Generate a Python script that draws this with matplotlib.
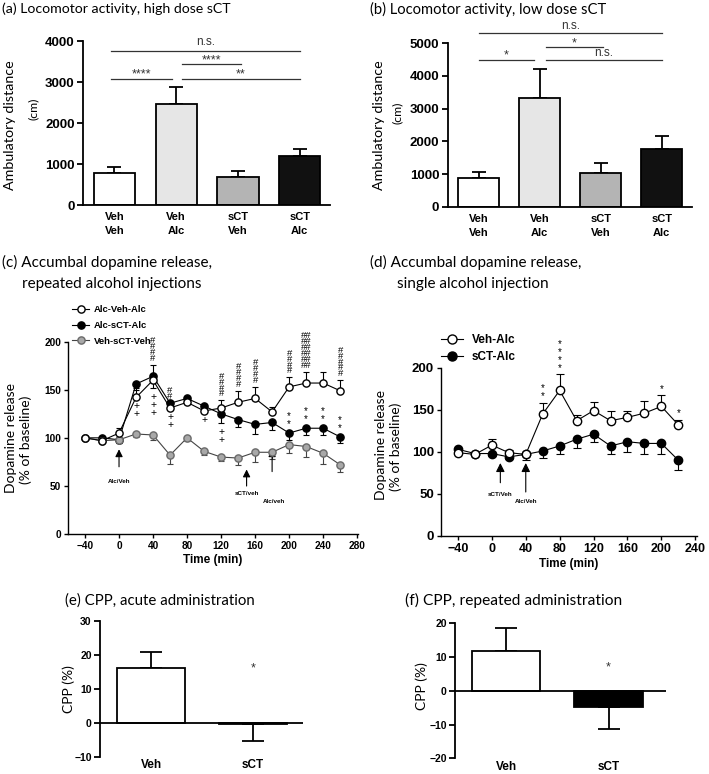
import matplotlib
matplotlib.use('Agg')
import matplotlib.pyplot as plt
from matplotlib.lines import Line2D
import numpy as np

W, H = 709, 774
fig = plt.figure(figsize=(W / 100, H / 100), dpi=100)

TF = 'Lato'               # titles / axis labels (Calibri-like)
KF = 'Liberation Sans'    # ticks (Arial-like)

# ---------------- data ----------------
groups_ab = ['Veh\nVeh', 'Veh\nAlc', 'sCT\nVeh', 'sCT\nAlc']
bar_colors = ['white', '#e6e6e6', '#b4b4b4', '#111111']
high_mean = [770, 2480, 690, 1205]
high_sem = [150, 395, 150, 170]
low_mean = [870, 3320, 1040, 1770]
low_sem = [200, 900, 290, 395]

time_c = [-40, -20, 0, 20, 40, 60, 80, 100, 120, 140, 160, 180, 200, 220, 240, 260]
alc_veh_alc = [100, 97, 105, 142, 160, 131, 137, 128, 131, 137, 141, 127, 153, 157, 157, 149]
alc_veh_alc_sem = [2, 2, 5, 10, 16, 5, 5, 5, 8, 12, 12, 5, 10, 12, 12, 11]
alc_sct_alc = [100, 100, 98, 156, 164, 136, 141, 133, 125, 119, 114, 116, 105, 110, 110, 101]
alc_sct_alc_sem = [2, 2, 3, 6, 12, 5, 6, 5, 10, 8, 10, 8, 7, 7, 7, 6]
veh_sct_veh = [100, 97, 98, 104, 103, 82, 100, 86, 80, 79, 85, 85, 93, 91, 84, 72]
veh_sct_veh_sem = [2, 2, 3, 3, 5, 9, 3, 4, 4, 7, 10, 7, 9, 11, 11, 8]
hash_c = {40: 4, 60: 2, 120: 4, 140: 4, 160: 4, 200: 4, 220: 6, 260: 5}
plus_c = {20: 2, 40: 3, 60: 2, 100: 1, 120: 2}
star_c = [200, 220, 240, 260]

time_d = [-40, -20, 0, 20, 40, 60, 80, 100, 120, 140, 160, 180, 200, 220]
veh_alc = [99, 97, 108, 99, 97, 145, 173, 137, 149, 137, 141, 146, 154, 132]
veh_alc_sem = [2, 2, 7, 3, 3, 13, 19, 7, 10, 12, 7, 15, 13, 6]
sct_alc = [103, 98, 98, 94, 97, 101, 107, 115, 121, 107, 112, 110, 110, 90]
sct_alc_sem = [2, 2, 3, 3, 7, 8, 10, 11, 9, 9, 12, 12, 12, 11]
stars_d = {60: '**', 80: '****', 200: '*', 220: '*'}

cpp_groups = ['Veh', 'sCT']
cpp_acute = [16.0, -0.3]
cpp_acute_sem = [5.0, 5.1]
cpp_repeated = [11.7, -4.8]
cpp_repeated_sem = [7.0, 6.4]


def box(l, t, r, b):
    return [l / W, 1 - b / H, (r - l) / W, (b - t) / H]


def style(ax, lw=1.2, tl=4, fs=8):
    for s in ['top', 'right']:
        ax.spines[s].set_visible(False)
    for s in ['left', 'bottom']:
        ax.spines[s].set_linewidth(lw)
    ax.tick_params(direction='out', width=lw, length=tl, labelsize=fs, pad=2)
    for lab in ax.get_xticklabels() + ax.get_yticklabels():
        lab.set_fontfamily(KF)
        lab.set_fontweight('bold')


def ftext(x, y, s, **kw):
    fig.text(x / W, 1 - y / H, s, **kw)


# ---------------- (a) & (b) ----------------
def bar_panel(rect, means, sems, ymax, step, sig):
    ax = fig.add_axes(rect)
    x = np.arange(len(means))
    ax.bar(x, means, width=0.667, color=bar_colors, edgecolor='black', lw=1.3, zorder=2)
    ax.errorbar(x, means, yerr=[np.zeros(len(means)), sems], fmt='none', ecolor='black',
                elinewidth=1.3, capsize=5, capthick=1.3, zorder=1)
    ax.set_xlim(-0.51, 3.49)
    ax.set_ylim(0, ymax)
    ax.set_yticks(np.arange(0, ymax + 1, step))
    ax.set_xticks(x)
    ax.set_xticklabels(groups_ab, linespacing=1.55)
    style(ax, lw=1.3, tl=4, fs=9.5)
    ax.tick_params(axis='x', length=0, pad=5, labelsize=8)
    for (x0, x1, yl, yt, s, fsz) in sig:
        ax.plot([x0, x1], [yl, yl], color='#333333', lw=0.9, clip_on=False)
        ax.text((x0 + x1) / 2, yt, s, ha='center', va='center', fontsize=fsz,
                family=KF, color='#333333', clip_on=False)
    return ax


bar_panel(box(83, 41.3, 330, 205), high_mean, high_sem, 4000, 1000,
          [(-0.05, 3.0, 3755, 3990, 'n.s.', 8.5),
           (-0.05, 0.93, 3080, 3200, '****', 9),
           (1.1, 2.05, 3446, 3540, '****', 9),
           (1.1, 3.0, 3080, 3200, '**', 9)])
bar_panel(box(447.7, 43.3, 691.7, 206.7), low_mean, low_sem, 5000, 1000,
          [(0.0, 3.0, 5316, 5520, 'n.s.', 8.5),
           (0.0, 0.91, 4490, 4640, '*', 9),
           (1.1, 2.04, 4878, 5000, '*', 9),
           (1.1, 3.0, 4490, 4700, 'n.s.', 8.5)])

ftext(2, 2, '(a) Locomotor activity, high dose sCT', fontsize=10.2, family=TF, va='top')
ftext(370, 2, '(b) Locomotor activity, low dose sCT', fontsize=10.6, family=TF, va='top')
ftext(10, 125, 'Ambulatory distance', fontsize=10.3, family=TF, rotation=90, ha='center', va='center')
ftext(33, 109, '(cm)', fontsize=8.8, family=TF, rotation=90, ha='center', va='center')
ftext(379, 125, 'Ambulatory distance', fontsize=10.3, family=TF, rotation=90, ha='center', va='center')
ftext(397, 113, '(cm)', fontsize=8.8, family=TF, rotation=90, ha='center', va='center')


def leg_handle(mfc, mec, lc, ms):
    return Line2D([], [], color=lc, lw=0.8, marker='o', mfc=mfc, mec=mec, ms=ms)


# ---------------- (c) ----------------
axc = fig.add_axes(box(68, 341.7, 358, 534))
z = np.zeros(len(time_c))
kw = dict(lw=0.8, elinewidth=0.8, capsize=2.5, capthick=0.8, ms=5.2, marker='o')
axc.errorbar(time_c, alc_sct_alc, yerr=[alc_sct_alc_sem, z], color='black', mfc='black',
             mec='black', zorder=3, **kw)
axc.errorbar(time_c, veh_sct_veh, yerr=[veh_sct_veh_sem, z], color='#444444', ecolor='#444444',
             mfc='#a8a8a8', mec='#6a6a6a', zorder=3, **kw)
axc.errorbar(time_c, alc_veh_alc, yerr=[z, alc_veh_alc_sem], color='black', mfc='white',
             mec='black', zorder=4, **kw)
axc.set_xlim(-60, 281)
axc.set_ylim(0, 200)
axc.set_xticks(np.arange(-40, 281, 40))
axc.set_yticks(np.arange(0, 201, 50))
style(axc, lw=1.0, tl=3, fs=7.3)
axc.set_xlabel('Time (min)', fontsize=8.5, family=KF, fontweight='bold', labelpad=2)
hc = [leg_handle('white', 'black', 'black', 5.2),
      leg_handle('black', 'black', 'black', 5.2),
      leg_handle('#a8a8a8', '#6a6a6a', '#444444', 5.2)]
axc.legend(hc, ['Alc-Veh-Alc', 'Alc-sCT-Alc', 'Veh-sCT-Veh'], loc='upper left',
           bbox_to_anchor=(0.015, 1.19), frameon=False, prop=dict(family=KF, weight='bold', size=6.8),
           handlelength=1.8, handletextpad=0.5, labelspacing=0.72, borderpad=0, borderaxespad=0)

for t, n in hash_c.items():
    i = time_c.index(t)
    sym = '##' if n > 5 else '#'
    axc.text(t, alc_veh_alc[i] + alc_veh_alc_sem[i] + 2, '\n'.join([sym] * n), ha='center',
             va='bottom', fontsize=6.8, family=KF, linespacing=0.55, clip_on=False)
for t, n in plus_c.items():
    i = time_c.index(t)
    lo = min(alc_veh_alc[i], alc_sct_alc[i] - alc_sct_alc_sem[i])
    axc.text(t, lo - 4, '\n'.join(['+'] * n), ha='center', va='top', fontsize=7.5,
             family=KF, linespacing=0.75)
for t in star_c:
    i = time_c.index(t)
    axc.text(t, alc_sct_alc[i] + 4, '*\n*', ha='center', va='bottom', fontsize=7,
             family=KF, linespacing=0.75)

arrow = dict(arrowstyle='-|>', color='black', lw=0.8, mutation_scale=11)
axc.annotate('', xy=(0, 91), xytext=(0, 67), arrowprops=arrow)
axc.text(0, 55, 'Alc/Veh', ha='center', va='center', fontsize=4.5, family=KF, fontweight='bold')
axc.annotate('', xy=(150, 70), xytext=(150, 47), arrowprops=arrow)
axc.text(150, 42, 'sCT/veh', ha='center', va='center', fontsize=4.5, family=KF, fontweight='bold')
axc.annotate('', xy=(180, 91), xytext=(180, 62), arrowprops=arrow)
axc.text(182, 34, 'Alc/veh', ha='center', va='center', fontsize=4.5, family=KF, fontweight='bold')

ftext(2, 255, '(c) Accumbal dopamine release,', fontsize=11, family=TF, va='top')
ftext(22, 277, 'repeated alcohol injections', fontsize=11, family=TF, va='top')
ftext(11, 438, 'Dopamine release', fontsize=10, family=TF, rotation=90, ha='center', va='center')
ftext(26, 440, '(% of baseline)', fontsize=10, family=TF, rotation=90, ha='center', va='center')

# ---------------- (d) ----------------
axd = fig.add_axes(box(441, 367.7, 697, 536))
z = np.zeros(len(time_d))
kw = dict(lw=0.8, elinewidth=0.8, capsize=3, capthick=0.8, ms=6, marker='o')
axd.errorbar(time_d, sct_alc, yerr=[sct_alc_sem, z], color='black', mfc='black', mec='black',
             zorder=3, **kw)
axd.errorbar(time_d, veh_alc, yerr=[z, veh_alc_sem], color='black', mfc='white', mec='black',
             zorder=4, **kw)
axd.set_xlim(-60, 242)
axd.set_ylim(0, 200)
axd.set_xticks(np.arange(-40, 241, 40))
axd.set_yticks(np.arange(0, 201, 50))
style(axd, lw=1.0, tl=3, fs=9)
axd.tick_params(axis='y', labelsize=9.5)
axd.set_xlabel('Time (min)', fontsize=8.5, family=KF, fontweight='bold', labelpad=2)
hd = [leg_handle('white', 'black', 'black', 6.5), leg_handle('black', 'black', 'black', 6.5)]
axd.legend(hd, ['Veh-Alc', 'sCT-Alc'], loc='upper left', bbox_to_anchor=(0.0, 1.2),
           frameon=False, prop=dict(family=KF, weight='bold', size=8.5),
           handlelength=1.9, handletextpad=0.7, labelspacing=0.4, borderpad=0, borderaxespad=0)
for t, s in stars_d.items():
    i = time_d.index(t)
    axd.text(t, veh_alc[i] + veh_alc_sem[i] + 2, '\n'.join(s), ha='center', va='bottom',
             fontsize=7, family=KF, linespacing=0.75)
axd.annotate('', xy=(10, 90), xytext=(10, 60), arrowprops=dict(arrowstyle='-|>', color='black',
             lw=0.8, mutation_scale=13))
axd.text(10, 49, 'sCT/Veh', ha='center', va='center', fontsize=4.5, family=KF, fontweight='bold')
axd.annotate('', xy=(40, 90), xytext=(40, 49), arrowprops=dict(arrowstyle='-|>', color='black',
             lw=0.8, mutation_scale=13))
axd.text(40, 41, 'Alc/Veh', ha='center', va='center', fontsize=4.5, family=KF, fontweight='bold')

ftext(370, 255, '(d) Accumbal dopamine release,', fontsize=11, family=TF, va='top')
ftext(397, 277, 'single alcohol injection', fontsize=11, family=TF, va='top')
ftext(381, 445, 'Dopamine release', fontsize=10, family=TF, rotation=90, ha='center', va='center')
ftext(396, 447, '(% of baseline)', fontsize=10, family=TF, rotation=90, ha='center', va='center')


# ---------------- (e) & (f) ----------------
def cpp_panel(rect, means, sems, ylo, yhi, star_y, xr):
    ax = fig.add_axes(rect)
    x = np.arange(2)
    ax.bar(x, means, width=0.667, color=['white', 'black'], edgecolor='black', lw=1.3, zorder=2)
    up = [s if m >= 0 else 0 for m, s in zip(means, sems)]
    dn = [s if m < 0 else 0 for m, s in zip(means, sems)]
    ax.errorbar(x, means, yerr=[dn, up], fmt='none', ecolor='black', elinewidth=1.3,
                capsize=8, capthick=1.3, zorder=1)
    ax.axhline(0, color='black', lw=1.3, zorder=3)
    ax.set_xlim(-0.5, xr)
    ax.set_ylim(ylo, yhi)
    ax.set_yticks(np.arange(ylo, yhi + 1, 10))
    ax.set_xticks(x)
    ax.set_xticklabels(cpp_groups)
    style(ax, lw=1.3, tl=4, fs=7.5)
    ax.spines['bottom'].set_visible(False)
    ax.tick_params(axis='x', length=0, pad=2, labelsize=8.5)
    ax.text(1, star_y, '*', ha='center', va='center', fontsize=9, family=KF, color='#333333')
    return ax


cpp_panel(box(100, 621, 303, 756.7), cpp_acute, cpp_acute_sem, -10, 30, 16, 1.49)
cpp_panel(box(455, 623.3, 666, 758.3), cpp_repeated, cpp_repeated_sem, -20, 20, 7, 1.56)
ftext(65, 593, '(e) CPP, acute administration', fontsize=10.8, family=TF, va='top')
ftext(405, 593, '(f) CPP, repeated administration', fontsize=11.2, family=TF, va='top')
ftext(69, 689, 'CPP (%)', fontsize=10, family=TF, rotation=90, ha='center', va='center')
ftext(422, 686, 'CPP (%)', fontsize=10, family=TF, rotation=90, ha='center', va='center')

fig.savefig('out.png', dpi=100)
